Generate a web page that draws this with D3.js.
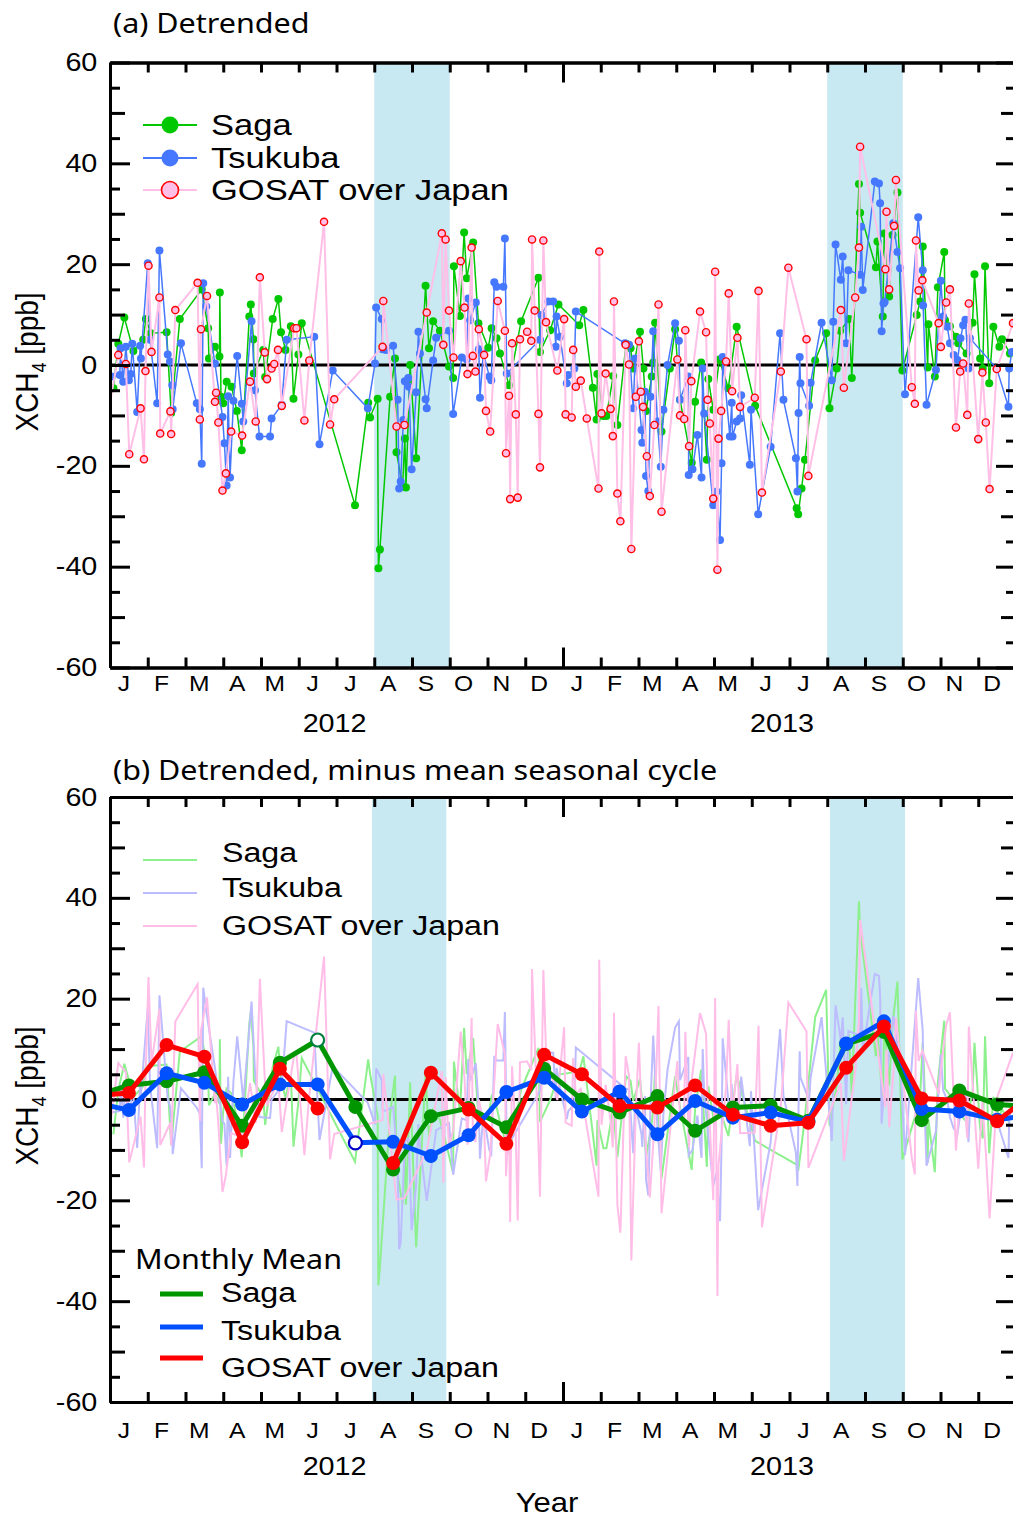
<!DOCTYPE html>
<html>
<head>
<meta charset="utf-8">
<script src="https://cdn.jsdelivr.net/npm/d3@7"></script>
<style>
  body { margin: 0; background: #fff; }
</style>
</head>
<body>
<div id="chart"></div>
<script>
// time is in months since 1 Jan 2012 (0..24), values in ppb

// panel (a) detrended XCH4
const sagaPts = [
  [0.09,-4.6],[0.22,4.2],[0.38,9.4],[0.62,2.8],[0.88,5.0],[0.95,9.1],[1.08,6.3],[1.50,6.5],[1.62,-9.5],[1.85,9.1],
  [2.43,15.0],[2.60,7.3],[2.62,1.3],[2.78,3.6],[2.90,1.7],[2.91,14.4],[2.94,-6.3],[3.00,-7.6],[3.09,-3.3],[3.22,-4.3],
  [3.36,-9.1],[3.49,-16.9],[3.69,9.6],[3.73,12.0],[3.80,5.1],[3.81,-1.7],[4.06,3.0],[4.11,-2.4],[4.31,9.1],[4.46,13.1],
  [4.53,6.5],[4.65,3.0],[4.79,7.7],[4.86,-6.7],[4.99,2.1],[5.08,8.3],[6.49,-27.8],[6.84,-7.5],[6.89,-10.4],[7.09,-6.7],
  [7.11,-40.3],[7.15,-36.6],[7.42,-6.3],[7.55,1.3],[7.59,-17.3],[7.75,-24.1],[7.81,-14.6],[7.84,-24.3],[7.95,0.0],[8.11,-18.5],
  [8.36,15.7],[8.45,3.3],[8.56,8.7],[8.74,6.8],[8.98,-0.3],[9.09,-2.6],[9.11,19.6],[9.27,9.7],[9.38,26.3],[9.45,17.2],
  [9.62,24.3],[9.76,8.3],[10.02,3.4],[10.11,7.3],[10.24,5.3],[10.33,2.3],[10.57,-4.0],[10.89,8.7],[11.35,17.3],[11.39,2.6],
  [11.66,6.9],[11.88,12.0],[12.43,7.9],[12.54,10.9],[12.79,-4.5],[12.89,-10.8],[12.91,-1.8],[13.07,-10.1],[13.15,-10.1],[13.33,-2.2],
  [13.44,-11.9],[13.67,4.2],[13.79,3.3],[13.86,-0.7],[14.04,6.6],[14.13,-0.7],[14.20,-9.1],[14.35,-2.3],[14.39,0.5],[14.44,8.4],
  [14.61,-13.2],[14.83,-0.7],[14.97,7.1],[15.10,-6.9],[15.41,-19.4],[15.50,-7.3],[15.66,0.5],[15.81,-18.8],[15.85,-2.8],[15.98,-8.9],
  [16.14,1.1],[16.38,-4.6],[16.60,7.6],[17.09,-8.1],[18.19,-28.4],[18.23,-29.6],[18.32,-24.5],[18.41,-18.8],[18.68,0.9],[18.97,6.3],
  [19.06,-8.6],[19.25,-0.7],[19.34,6.8],[19.58,9.1],[19.65,-2.6],[19.84,35.9],[19.87,30.2],[20.29,19.4],[20.33,24.5],[20.47,9.6],
  [20.51,26.1],[20.64,13.6],[20.73,25.8],[20.86,34.2],[20.99,-1.1],[21.37,9.9],[21.46,12.6],[21.53,23.5],[21.66,-0.5],[21.68,8.1],
  [21.85,-2.3],[21.93,15.4],[22.10,22.4],[22.12,8.9],[22.25,7.7],[22.41,5.6],[22.47,4.3],[22.69,2.3],[22.85,8.4],[22.90,18.0],
  [23.05,1.3],[23.12,-0.7],[23.18,19.6],[23.29,-3.6],[23.40,7.6],[23.56,3.6],[23.63,5.1],[23.84,2.3]
];

const tsukubaPts = [
  [0.04,-2.3],[0.26,-2.0],[0.28,3.3],[0.35,-3.3],[0.42,3.6],[0.50,-3.0],[0.55,-1.8],[0.59,4.2],[0.72,-9.3],[0.80,3.8],
  [0.82,1.3],[1.00,20.2],[1.06,5.0],[1.25,-7.6],[1.31,22.7],[1.53,2.1],[1.59,0.7],[1.65,-4.0],[1.66,-8.8],[1.88,4.3],
  [2.30,-7.6],[2.38,-8.8],[2.43,-19.6],[2.47,16.2],[2.55,11.6],[2.78,0.3],[2.98,-10.3],[3.03,-15.5],[3.09,-23.9],[3.13,-6.2],
  [3.18,-22.3],[3.27,-7.1],[3.37,1.8],[3.49,-7.7],[3.53,-11.2],[3.75,8.7],[3.84,-5.0],[3.96,-14.2],[4.24,-14.2],[4.28,-10.6],
  [4.55,-7.9],[4.68,5.0],[5.41,5.6],[5.55,-15.7],[5.90,-1.1],[6.83,-8.6],[7.02,0.3],[7.05,11.4],[7.20,9.1],[7.22,3.1],
  [7.31,3.0],[7.50,3.8],[7.62,-6.9],[7.66,-24.5],[7.70,-23.1],[7.77,-10.9],[7.81,-3.2],[7.90,-2.6],[7.92,-4.3],[7.99,-20.7],
  [8.11,-5.4],[8.17,6.6],[8.21,2.3],[8.36,-6.8],[8.39,-8.6],[8.56,0.9],[8.64,5.4],[8.98,6.8],[9.09,-9.7],[9.32,1.5],
  [9.45,1.1],[9.49,13.2],[9.54,8.9],[9.69,12.4],[9.77,3.1],[9.80,-6.5],[9.89,2.3],[10.05,-2.3],[10.10,-3.0],[10.18,16.4],
  [10.24,15.5],[10.42,15.5],[10.46,25.1],[10.51,-1.7],[11.39,5.0],[11.43,9.9],[11.61,12.6],[11.74,12.6],[11.81,3.6],[11.83,9.6],
  [11.92,5.6],[12.10,-3.6],[12.14,-2.0],[12.30,-0.7],[12.34,10.6],[13.64,4.3],[13.75,4.0],[13.86,-8.6],[13.91,1.3],[14.08,-12.9],
  [14.10,-15.4],[14.17,-5.3],[14.20,-22.0],[14.26,-25.0],[14.32,-6.3],[14.39,6.7],[14.50,-11.2],[14.59,-20.2],[14.66,-8.9],[14.77,0.0],
  [14.97,8.3],[15.07,4.8],[15.10,-6.9],[15.32,-2.3],[15.33,-21.8],[15.43,-20.7],[15.56,-13.9],[15.67,-22.3],[15.70,-0.7],[15.74,-9.6],
  [15.98,-27.8],[16.07,-25.1],[16.16,-34.7],[16.20,-19.5],[16.23,1.6],[16.42,-14.2],[16.47,-7.5],[16.49,-14.2],[16.60,-11.2],[16.69,-10.6],
  [16.72,-6.0],[16.95,-19.8],[16.98,-8.9],[17.17,-29.6],[17.50,-16.2],[17.75,6.3],[17.84,-6.9],[18.17,-18.5],[18.21,-25.1],[18.24,-9.5],
  [18.27,1.6],[18.29,-3.6],[18.52,-8.1],[18.56,-3.5],[18.85,8.4],[19.12,-3.0],[19.16,8.6],[19.22,23.9],[19.36,16.9],[19.41,21.5],
  [19.50,4.3],[19.56,18.8],[19.87,17.9],[19.90,27.4],[19.94,14.9],[20.26,36.4],[20.37,36.0],[20.40,32.1],[20.44,6.7],[20.49,12.2],
  [20.52,12.5],[20.75,28.1],[20.86,22.4],[20.93,19.2],[21.06,-5.8],[21.41,29.3],[21.53,18.8],[21.54,11.8],[21.63,-7.9],[21.88,-1.0],
  [22.01,16.7],[22.07,9.6],[22.18,7.6],[22.25,4.3],[22.35,2.0],[22.45,1.0],[22.53,5.3],[22.60,7.9],[22.66,9.0],[22.74,-0.7],
  [22.78,5.3],[23.49,-0.7],[23.80,-8.3],[23.82,-0.7],[23.89,2.6]
];

const gosatPts = [
  [-0.10,-12.0],[0.22,2.0],[0.42,0.2],[0.51,-17.7],[0.81,-8.6],[0.90,-18.7],[0.94,-1.2],[1.02,19.7],[1.10,2.6],[1.31,13.4],
  [1.33,-13.6],[1.60,-9.2],[1.62,-13.7],[1.73,10.9],[2.32,16.3],[2.38,-10.8],[2.41,7.1],[2.57,13.7],[2.78,-7.3],[2.81,-5.5],
  [2.87,-11.4],[2.98,-24.9],[3.07,-21.5],[3.21,-13.2],[3.50,-14.0],[3.71,-3.3],[3.86,-11.2],[3.97,17.4],[4.10,2.5],[4.16,-2.8],
  [4.28,-0.7],[4.35,0.2],[4.45,3.0],[4.55,-8.1],[4.88,7.3],[4.94,7.3],[5.15,-11.0],[5.28,0.9],[5.67,28.4],[5.83,-11.8],
  [5.94,-6.8],[7.22,3.6],[7.24,12.7],[7.59,-12.2],[7.80,-11.9],[8.39,10.4],[8.79,26.1],[8.83,4.0],[8.89,24.9],[8.98,10.8],
  [9.10,1.5],[9.29,20.6],[9.39,11.4],[9.47,-1.8],[9.58,23.3],[9.61,1.8],[9.68,-1.3],[9.77,7.1],[9.91,2.0],[9.96,-9.1],
  [10.07,-13.2],[10.27,12.7],[10.46,6.8],[10.49,-17.5],[10.57,-6.1],[10.60,-26.6],[10.65,4.3],[10.75,-9.8],[10.80,-26.3],[10.86,5.1],
  [11.05,6.6],[11.16,4.8],[11.18,24.9],[11.25,10.8],[11.35,-9.7],[11.39,-20.3],[11.48,24.7],[11.55,8.5],[11.85,-1.1],[12.03,9.1],
  [12.07,-9.8],[12.23,-10.4],[12.27,3.0],[12.34,-4.3],[12.47,-3.1],[12.63,-10.6],[12.94,-24.5],[12.96,22.5],[13.02,-9.6],[13.13,-1.7],
  [13.26,-8.7],[13.32,-14.1],[13.35,12.6],[13.44,-25.5],[13.52,-31.0],[13.66,4.0],[13.75,0.1],[13.81,-36.5],[13.93,-6.3],[14.01,4.7],
  [14.06,-5.3],[14.12,-8.3],[14.22,-18.1],[14.30,-26.0],[14.42,-11.9],[14.53,12.0],[14.61,-29.1],[15.03,1.1],[15.10,-10.0],[15.21,-10.7],
  [15.24,6.9],[15.34,-16.1],[15.40,-3.2],[15.63,10.6],[15.79,6.5],[15.83,-6.9],[15.89,-11.6],[15.98,-26.5],[16.03,18.5],[16.09,-40.6],
  [16.12,-14.6],[16.19,-9.1],[16.32,0.7],[16.39,14.2],[16.48,-5.2],[16.62,5.4],[16.69,-8.3],[17.08,-6.5],[17.18,14.7],[17.27,-25.3],
  [17.77,-1.3],[17.97,19.3],[18.45,5.1],[18.50,-22.0],[19.36,10.9],[19.44,-4.5],[19.74,13.4],[19.84,23.3],[19.87,43.3],[20.54,19.0],
  [20.57,30.4],[20.64,15.0],[20.77,27.6],[20.82,36.7],[21.24,-4.4],[21.32,-7.7],[21.35,24.7],[21.42,14.8],[21.52,16.8],[21.95,8.3],
  [22.01,3.6],[22.15,12.4],[22.25,15.0],[22.41,-12.4],[22.52,-1.3],[22.60,0.3],[22.71,-9.9],[22.75,12.2],[23.00,-14.7],[23.11,-1.5],
  [23.20,-11.4],[23.30,-24.6],[23.49,-0.8],[23.92,8.3]
];

// panel (b) monthly means, Dec 2011 .. Jan 2014 (26 values, null = no data)
const sagaMonthly    = [0.5, 2.8, 3.6, 5.4, -5.2, 7.3, 11.8, -1.5, -13.9, -3.3, -1.7, -5.5, 6.1,
                        0.0, -2.6, 0.7, -6.2, -1.6, -1.2, -4.2, 11.0, 13.4, -4.1, 1.8, -1.0, -1.5];
const tsukubaMonthly = [-0.5, -2.1, 5.2, 3.3, -1.0, 3.0, 3.0, -8.6, -8.4, -11.2, -7.1, 1.5, 4.3,
                        -2.4, 1.6, -6.9, -0.3, -3.6, -2.6, -4.4, 11.1, 15.5, -1.9, -2.4, -4.0, -3.0];
const gosatMonthly   = [0.7, 1.3, 10.8, 8.5, -8.5, 6.1, -1.8, null, -12.6, 5.3, -2.0, -8.8, 8.9,
                        5.0, -1.3, -1.6, 2.8, -3.0, -5.2, -4.6, 6.3, 14.5, 0.2, -0.2, -4.3, 1.5];
// months drawn as open circles (index into the arrays above)
const sagaOpen = [6];
const tsukubaOpen = [7];

const monthLabels = ["J","F","M","A","M","J","J","A","S","O","N","D"];
const yearLabels = ["2012", "2013"];
// shaded summer periods, in months
const shadeA = [[7, 9], [19, 21]];
const shadeB = [[6.94, 8.91], [19.07, 21.06]];

const W = 1013, H = 1519;
const ARIAL = "'Liberation Sans', Arial, Helvetica, sans-serif";
const NOTO = "'Noto Sans', 'DejaVu Sans', sans-serif";

const svg = d3.select("#chart").append("svg")
    .attr("width", W).attr("height", H)
    .attr("viewBox", `0 0 ${W} ${H}`);

const x = d3.scaleLinear().domain([0, 24]).range([110, 1016]);
const yA = d3.scaleLinear().domain([-60, 60]).range([667.5, 62.5]);
const yB = d3.scaleLinear().domain([-60, 60]).range([1402, 797]);

// text helper, text in the picture is a bit wide so stretch it a little
function label(g, str, px, py, size, anchor, family, sx) {
    return g.append("text")
        .attr("transform", `translate(${px},${py}) scale(${sx || 1.15},1)`)
        .attr("text-anchor", anchor || "start")
        .attr("font-family", family || ARIAL)
        .attr("font-size", size)
        .attr("fill", "#000")
        .text(str);
}

function addClip(id, y) {
    svg.append("clipPath").attr("id", id).append("rect")
        .attr("x", x(0)).attr("y", y.range()[1])
        .attr("width", x(24) - x(0)).attr("height", y.range()[0] - y.range()[1]);
}
addClip("clipA", yA);
addClip("clipB", yB);

function drawShading(g, y, spans) {
    g.selectAll("rect.shade").data(spans).enter().append("rect")
        .attr("class", "shade")
        .attr("x", d => x(d[0]))
        .attr("width", d => x(d[1]) - x(d[0]))
        .attr("y", y.range()[1])
        .attr("height", y.range()[0] - y.range()[1])
        .attr("fill", "#c8e8f2");
}

function drawZero(g, y) {
    g.append("line")
        .attr("x1", x(0)).attr("x2", x(24))
        .attr("y1", y(0)).attr("y2", y(0))
        .attr("stroke", "#000").attr("stroke-width", 3);
}

function styleAxis(sel) {
    sel.selectAll("line").attr("stroke", "#000").attr("stroke-width", 3);
    sel.select(".domain").attr("stroke", "#000").attr("stroke-width", 3);
}

function drawFrame(g, y, monthY, yearY) {
    const yBot = y.range()[0], yTop = y.range()[1];

    // month ticks, bottom and top, pointing inward
    g.append("g").attr("transform", `translate(0,${yBot})`)
        .call(d3.axisBottom(x).tickValues(d3.range(0, 25)).tickSizeInner(-10).tickSizeOuter(0).tickFormat(""))
        .call(styleAxis);
    g.append("g").attr("transform", `translate(0,${yBot})`)
        .call(d3.axisBottom(x).tickValues([12]).tickSizeInner(-20).tickSizeOuter(0).tickFormat(""))
        .call(styleAxis);
    g.append("g").attr("transform", `translate(0,${yTop})`)
        .call(d3.axisTop(x).tickValues(d3.range(0, 25)).tickSizeInner(-10).tickSizeOuter(0).tickFormat(""))
        .call(styleAxis);
    g.append("g").attr("transform", `translate(0,${yTop})`)
        .call(d3.axisTop(x).tickValues([12]).tickSizeInner(-20).tickSizeOuter(0).tickFormat(""))
        .call(styleAxis);

    // y ticks: 20s long with labels, 10s medium, 5s short
    const left = g.append("g").attr("transform", `translate(${x(0)},0)`)
        .call(d3.axisLeft(y).tickValues(d3.range(-60, 61, 20)).tickSizeInner(-20).tickSizeOuter(0)
            .tickPadding(11).tickFormat(d => String(d)))
        .call(styleAxis);
    left.selectAll("text")
        .attr("font-family", ARIAL).attr("font-size", 25).attr("fill", "#000")
        .attr("transform", "scale(1.15,1)");
    g.append("g").attr("transform", `translate(${x(0)},0)`)
        .call(d3.axisLeft(y).tickValues(d3.range(-50, 60, 20)).tickSizeInner(-15).tickSizeOuter(0).tickFormat(""))
        .call(styleAxis);
    g.append("g").attr("transform", `translate(${x(0)},0)`)
        .call(d3.axisLeft(y).tickValues(d3.range(-55, 60, 10)).tickSizeInner(-10).tickSizeOuter(0).tickFormat(""))
        .call(styleAxis);

    g.append("g").attr("transform", `translate(${x(24)},0)`)
        .call(d3.axisRight(y).tickValues(d3.range(-60, 61, 20)).tickSizeInner(-20).tickSizeOuter(0).tickFormat(""))
        .call(styleAxis);
    g.append("g").attr("transform", `translate(${x(24)},0)`)
        .call(d3.axisRight(y).tickValues(d3.range(-50, 60, 20)).tickSizeInner(-15).tickSizeOuter(0).tickFormat(""))
        .call(styleAxis);
    g.append("g").attr("transform", `translate(${x(24)},0)`)
        .call(d3.axisRight(y).tickValues(d3.range(-55, 60, 10)).tickSizeInner(-10).tickSizeOuter(0).tickFormat(""))
        .call(styleAxis);

    // month and year labels (sit a little left of mid-month in the original)
    d3.range(24).forEach(i => {
        label(g, monthLabels[i % 12], x(i + 0.5) - 5, monthY, 22, "middle", ARIAL, 1.12);
    });
    label(g, yearLabels[0], x(5.95), yearY, 25, "middle");
    label(g, yearLabels[1], x(17.8), yearY, 25, "middle");
}

function yTitle(g, cy) {
    const t = g.append("text")
        .attr("transform", `translate(38,${cy}) rotate(-90) scale(1,1.12)`)
        .attr("text-anchor", "middle")
        .attr("font-family", ARIAL).attr("font-size", 28);
    t.append("tspan").text("XCH");
    t.append("tspan").attr("font-size", 18).attr("dy", 7).text("4");
    t.append("tspan").attr("dy", -7).text(" [ppb]");
}

// ---------------- panel (a) ----------------
const gA = svg.append("g");
drawShading(gA, yA, shadeA);
drawZero(gA, yA);

const plotA = gA.append("g").attr("clip-path", "url(#clipA)");
const lineA = d3.line().x(d => x(d[0])).y(d => yA(d[1]));

const seriesA = [
    { pts: sagaPts, line: "#00c800", fill: "#00c800", stroke: "none", r: 4, w: 1.5 },
    { pts: tsukubaPts, line: "#4678ff", fill: "#4678ff", stroke: "none", r: 4, w: 1.5 },
    { pts: gosatPts, line: "#ffbfe6", fill: "#ffbfe6", stroke: "#ff0000", r: 3.6, w: 2 }
];
seriesA.forEach(s => {
    plotA.append("path").datum(s.pts)
        .attr("d", lineA).attr("fill", "none")
        .attr("stroke", s.line).attr("stroke-width", s.w);
    plotA.append("g").selectAll("circle").data(s.pts).enter().append("circle")
        .attr("cx", d => x(d[0])).attr("cy", d => yA(d[1])).attr("r", s.r)
        .attr("fill", s.fill).attr("stroke", s.stroke).attr("stroke-width", 1.4);
});

drawFrame(gA, yA, 691, 732);
yTitle(gA, 362);
label(gA, "(a) Detrended", 113, 33, 28, "start", NOTO, 1.09);

// legend (a)
const legA = [
    { name: "Saga", s: seriesA[0], y: 125 },
    { name: "Tsukuba", s: seriesA[1], y: 158 },
    { name: "GOSAT over Japan", s: seriesA[2], y: 190 }
];
legA.forEach(l => {
    gA.append("line").attr("x1", 143).attr("x2", 197).attr("y1", l.y).attr("y2", l.y)
        .attr("stroke", l.s.line).attr("stroke-width", 2);
    gA.append("circle").attr("cx", 170).attr("cy", l.y).attr("r", 8.5)
        .attr("fill", l.s.fill).attr("stroke", l.s.stroke).attr("stroke-width", 1.6);
    label(gA, l.name, 211, l.y + 10, 29.5, "start", ARIAL, 1.17);
});

// ---------------- panel (b) ----------------
// mean seasonal cycle of each series, from its own monthly means
function seasonalCycle(pts) {
    const sums = new Array(24).fill(0), counts = new Array(24).fill(0);
    pts.forEach(([t, v]) => {
        const m = Math.floor(t);
        if (m >= 0 && m < 24) { sums[m] += v; counts[m]++; }
    });
    return d3.range(12).map(m => d3.mean([m, m + 12].filter(k => counts[k]).map(k => sums[k] / counts[k])));
}
function minusCycle(pts) {
    const cyc = seasonalCycle(pts);
    return pts.map(([t, v]) => [t, v - cyc[((Math.floor(t) % 12) + 12) % 12]]);
}

const gB = svg.append("g");
drawShading(gB, yB, shadeB);
drawZero(gB, yB);

const plotB = gB.append("g").attr("clip-path", "url(#clipB)");
const lineB = d3.line().x(d => x(d[0])).y(d => yB(d[1]));

const faint = [
    { pts: minusCycle(sagaPts), color: "#8cf08c" },
    { pts: minusCycle(tsukubaPts), color: "#bcbcff" },
    { pts: minusCycle(gosatPts), color: "#ffbde8" }
];
faint.forEach(f => {
    plotB.append("path").datum(f.pts)
        .attr("d", lineB).attr("fill", "none")
        .attr("stroke", f.color).attr("stroke-width", 2);
});

const monthly = [
    { vals: sagaMonthly, color: "#009600", open: sagaOpen, openStroke: "#008040" },
    { vals: tsukubaMonthly, color: "#0050ff", open: tsukubaOpen, openStroke: "#0000c8" },
    { vals: gosatMonthly, color: "#ff0000", open: [], openStroke: "#ff0000" }
];
const lineM = d3.line()
    .defined(d => d.v !== null)
    .x(d => x(d.t)).y(d => yB(d.v));
monthly.forEach(m => {
    const data = m.vals.map((v, i) => ({ t: i - 0.5, v: v, open: m.open.includes(i) }));
    plotB.append("path").datum(data)
        .attr("d", lineM).attr("fill", "none")
        .attr("stroke", m.color).attr("stroke-width", 5).attr("stroke-linejoin", "round");
    plotB.append("g").selectAll("circle").data(data.filter(d => d.v !== null)).enter().append("circle")
        .attr("cx", d => x(d.t)).attr("cy", d => yB(d.v))
        .attr("r", d => d.open ? 6.5 : 7)
        .attr("fill", d => d.open ? "#fff" : m.color)
        .attr("stroke", d => d.open ? m.openStroke : "none")
        .attr("stroke-width", 2.2);
});

drawFrame(gB, yB, 1438, 1475);
yTitle(gB, 1096);
label(gB, "(b) Detrended, minus mean seasonal cycle", 113, 780, 28, "start", NOTO, 1.09);
label(gB, "Year", x(12) - 16, 1512, 27, "middle");

// legend (b), faint daily lines
const legB = [
    { name: "Saga", color: faint[0].color, ly: 860, ty: 862 },
    { name: "Tsukuba", color: faint[1].color, ly: 893, ty: 897 },
    { name: "GOSAT over Japan", color: faint[2].color, ly: 926, ty: 935 }
];
legB.forEach(l => {
    gB.append("line").attr("x1", 143).attr("x2", 197).attr("y1", l.ly).attr("y2", l.ly)
        .attr("stroke", l.color).attr("stroke-width", 2);
    label(gB, l.name, 222, l.ty, 28, "start");
});

// legend (b), monthly means
label(gB, "Monthly Mean", 135, 1269, 28, "start", NOTO, 1.09);
const legM = [
    { name: "Saga", color: monthly[0].color, ly: 1294, ty: 1302 },
    { name: "Tsukuba", color: monthly[1].color, ly: 1327, ty: 1340 },
    { name: "GOSAT over Japan", color: monthly[2].color, ly: 1358, ty: 1377 }
];
legM.forEach(l => {
    gB.append("line").attr("x1", 160).attr("x2", 203).attr("y1", l.ly).attr("y2", l.ly)
        .attr("stroke", l.color).attr("stroke-width", 5);
    label(gB, l.name, 221, l.ty, 28, "start");
});
</script>
